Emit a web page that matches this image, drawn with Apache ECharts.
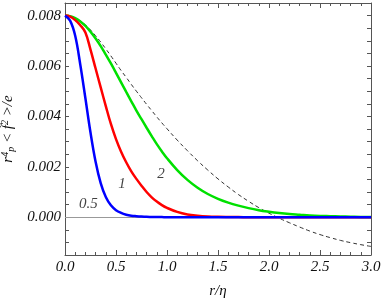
<!DOCTYPE html>
<html>
<head>
<meta charset="utf-8">
<script src="https://cdn.jsdelivr.net/npm/echarts@6/dist/echarts.min.js"></script>
<style>html,body{margin:0;padding:0;background:#fff}#c{width:382px;height:300px}</style>
</head>
<body>
<div id="c"></div>
<script>
// r/eta grid
var rValues = [0,0.05,0.1,0.15,0.2,0.25,0.3,0.35,0.4,0.45,0.5,0.55,0.6,0.65,0.7,0.75,0.8,0.85,0.9,0.95,1.0,
  1.1,1.2,1.3,1.4,1.5,1.6,1.7,1.8,1.9,2.0,2.1,2.2,2.3,2.4,2.5,2.6,2.7,2.8,2.9,3.0];
// curve "0.5" (blue)
var curve05 = [0.00800,0.00780,0.00720,0.00605,0.00472,0.00336,0.00220,0.00135,0.00080,0.00047,0.00028,0.00017,0.00010,0.00006,0.00004,0.000025,0.000015,0.00001,0.000005,0.000003,0,
  0,0,0,0,0,0,0,0,0,0,0,0,0,0,0,0,0,0,0,0];
// curve "1" (red)
var curve1 = [0.00800,0.00796,0.00782,0.00762,0.00733,0.00665,0.00590,0.00515,0.00441,0.00370,0.00310,0.00260,0.00218,0.00182,0.00152,0.00125,0.00100,0.00079,0.00062,0.00048,0.00037,
  0.00021,0.00011,0.00006,0.00003,0.000015,0.000008,0.000004,0.000002,0,0,0,0,0,0,0,0,0,0,0,0];
// curve "2" (green)
var curve2 = [0.00800,0.00798,0.00790,0.00777,0.00759,0.00736,0.00709,0.00679,0.00645,0.00610,0.00573,0.00535,0.00497,0.00460,0.00423,0.00389,0.00355,0.00322,0.00290,0.00261,0.00234,
  0.00187,0.00148,0.00117,0.00092,0.00073,0.00058,0.00046,0.00036,0.00028,0.00022,0.00017,0.00013,0.00010,0.00007,0.00005,0.00004,0.00003,0.00002,0.00001,0.00001];
// dashed reference curve
var curveDashed = [0.00800,0.00798,0.00791,0.00779,0.00763,0.00743,0.00720,0.00695,0.00668,0.00640,0.00611,0.00582,0.00555,0.00527,0.00500,0.00474,0.00448,0.00423,0.00398,0.00374,0.00351,
  0.00306,0.00264,0.00224,0.00187,0.00152,0.00120,0.00090,0.00063,0.00038,0.00016,-0.00004,-0.00022,-0.00039,-0.00055,-0.00069,-0.00081,-0.00092,-0.00101,-0.00109,-0.00116];
// curve annotations: [r, value, text]
var curveLabels = [[0.23,0.00052,'0.5'],[0.56,0.00133,'1'],[0.94,0.00173,'2']];
var xTicks = [0,0.5,1,1.5,2,2.5,3];
var yLabelStep = 0.002;

function pairs(ys){ return rValues.map(function(r,i){ return [r, ys[i]]; }); }

var serif = '"Liberation Serif"';
var frameColor = '#555';
var textColor = '#111';
var chart = echarts.init(document.getElementById('c'), null, {renderer:'canvas'});

var baseX = {
  type:'value', min:xTicks[0], max:xTicks[xTicks.length-1], interval:0.5,
  axisLine:{show:true, onZero:false, lineStyle:{color:frameColor, width:1}},
  axisTick:{show:true, inside:true, length:5, lineStyle:{color:frameColor}},
  minorTick:{show:true, splitNumber:5, length:3, lineStyle:{color:frameColor}},
  splitLine:{show:false}, minorSplitLine:{show:false}
};
var baseY = {
  type:'value', min:-0.0015, max:0.0085, interval:0.0005,
  axisLine:{show:true, onZero:false, lineStyle:{color:frameColor, width:1}},
  axisTick:{show:true, inside:true, length:4, lineStyle:{color:frameColor}},
  splitLine:{show:false}
};

var option = {
  animation:false,
  backgroundColor:'#fff',
  grid:{left:65, right:11, top:3, bottom:45, containLabel:false, outerBoundsMode:'none'},
  xAxis:[
    Object.assign({}, baseX, {
      position:'bottom',
      axisLabel:{show:true, margin:5, fontFamily:serif, fontStyle:'italic', fontSize:15, color:textColor,
        formatter:function(v){ return v.toFixed(1); }},
      name:'r/η', nameLocation:'middle', nameGap:29,
      nameTextStyle:{fontFamily:serif, fontStyle:'italic', fontSize:15, color:textColor}
    }),
    Object.assign({}, baseX, {position:'top', axisLabel:{show:false}})
  ],
  yAxis:[
    Object.assign({}, baseY, {
      position:'left',
      axisLabel:{show:true, margin:4, fontFamily:serif, fontStyle:'italic', fontSize:15, color:textColor,
        formatter:function(v){
          var q = v / yLabelStep;
          if (Math.abs(q - Math.round(q)) < 1e-6 && v > -1e-9) return v.toFixed(3);
          return '';
        }},
      name:'{i|r}{s|4}{b|p}{i| < }{i|f̂}{s|2}{i| >/e}', nameLocation:'middle', nameGap:40, nameRotate:90,
      nameTextStyle:{fontFamily:serif, fontStyle:'italic', fontSize:15, color:textColor,
        rich:{
          i:{fontFamily:serif, fontStyle:'italic', fontSize:15, color:textColor},
          s:{fontFamily:serif, fontStyle:'italic', fontSize:10, color:textColor, verticalAlign:'top', padding:[0,0,6,0]},
          b:{fontFamily:serif, fontStyle:'italic', fontSize:10, color:textColor, verticalAlign:'bottom', padding:[6,0,0,0]}
        }}
    }),
    Object.assign({}, baseY, {position:'right', axisLabel:{show:false}})
  ],
  series:[
    {type:'line', data:pairs(curveDashed), showSymbol:false, symbol:'none', smooth:0.4,
     lineStyle:{color:'#333', width:1, type:[4,3]}, z:3,
     markLine:{silent:true, symbol:'none', label:{show:false}, lineStyle:{color:'#999', width:1, type:'solid'},
       data:[{yAxis:0}], z:1}},
    {type:'line', data:pairs(curve2), showSymbol:false, symbol:'none', smooth:0.4,
     lineStyle:{color:'#00e000', width:2.5}, z:4},
    {type:'line', data:pairs(curve1), showSymbol:false, symbol:'none', smooth:0.4,
     lineStyle:{color:'#ff0000', width:2.5}, z:5},
    {type:'line', data:pairs(curve05), showSymbol:false, symbol:'none', smooth:0.4,
     lineStyle:{color:'#0000ff', width:2.5}, z:6},
    {type:'scatter', symbolSize:0, z:7,
     data:curveLabels.map(function(d){ return {value:[d[0], d[1]], name:d[2]}; }),
     label:{show:true, position:'inside', formatter:function(p){ return p.name; },
       fontFamily:serif, fontStyle:'italic', fontSize:15, color:textColor}}
  ]
};
chart.setOption(option);
</script>
</body>
</html>
